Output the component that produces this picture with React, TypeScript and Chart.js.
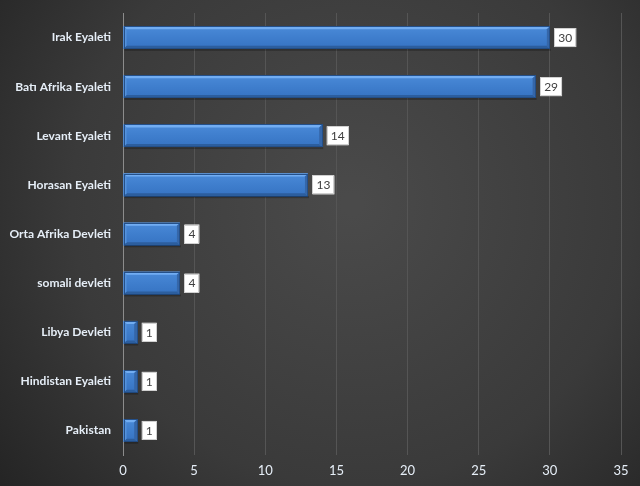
import React, { useEffect, useRef } from "react";
import { Chart, registerables } from "chart.js";

Chart.register(...registerables);

const categories = [
  "Irak Eyaleti",
  "Batı Afrika Eyaleti",
  "Levant Eyaleti",
  "Horasan Eyaleti",
  "Orta Afrika Devleti",
  "somali devleti",
  "Libya Devleti",
  "Hindistan Eyaleti",
  "Pakistan",
];
const values = [30, 29, 14, 13, 4, 4, 1, 1, 1];
const xTicks = [0, 5, 10, 15, 20, 25, 30, 35];

const FONT = "Lato, 'Open Sans', sans-serif";

const bgPlugin = {
  id: "bgPlugin",
  beforeDraw(chart: any) {
    const { ctx, width, height } = chart;
    ctx.save();
    const g = ctx.createRadialGradient(width * 0.55, height * 0.42, 10, width * 0.55, height * 0.42, width * 0.72);
    g.addColorStop(0, "#4a4a4a");
    g.addColorStop(0.6, "#3a3a3a");
    g.addColorStop(1, "#232323");
    ctx.fillStyle = g;
    ctx.fillRect(0, 0, width, height);
    ctx.restore();
  },
};

const bevelPlugin = {
  id: "bevelPlugin",
  afterDatasetsDraw(chart: any) {
    const { ctx } = chart;
    const meta = chart.getDatasetMeta(0);
    ctx.save();
    meta.data.forEach((bar: any) => {
      const l = bar.base;
      const r = bar.x;
      const t = bar.y - bar.height / 2;
      const b = bar.y + bar.height / 2;
      const bv = 3;
      const g = ctx.createLinearGradient(0, t, 0, b);
      g.addColorStop(0, "#4a8ad8");
      g.addColorStop(0.5, "#3f7ecd");
      g.addColorStop(1, "#3673c2");
      ctx.fillStyle = g;
      ctx.fillRect(l, t, r - l, b - t);
      ctx.fillStyle = "#72adf2";
      ctx.beginPath();
      ctx.moveTo(l, t);
      ctx.lineTo(r, t);
      ctx.lineTo(r - bv, t + bv);
      ctx.lineTo(l + bv, t + bv);
      ctx.closePath();
      ctx.fill();
      ctx.fillStyle = "#2c5e9e";
      ctx.beginPath();
      ctx.moveTo(l, b);
      ctx.lineTo(r, b);
      ctx.lineTo(r - bv, b - bv);
      ctx.lineTo(l + bv, b - bv);
      ctx.closePath();
      ctx.fill();
      ctx.fillStyle = "#3566a8";
      ctx.beginPath();
      ctx.moveTo(r, t);
      ctx.lineTo(r, b);
      ctx.lineTo(r - bv, b - bv);
      ctx.lineTo(r - bv, t + bv);
      ctx.closePath();
      ctx.fill();
      ctx.fillStyle = "#5592dc";
      ctx.beginPath();
      ctx.moveTo(l, t);
      ctx.lineTo(l, b);
      ctx.lineTo(l + bv, b - bv);
      ctx.lineTo(l + bv, t + bv);
      ctx.closePath();
      ctx.fill();
      ctx.strokeStyle = "#24508a";
      ctx.lineWidth = 1;
      ctx.strokeRect(Math.round(l) + 0.5, Math.round(t) + 0.5, Math.round(r - l) - 1, Math.round(b - t) - 1);
      ctx.fillStyle = "rgba(0,0,0,0.25)";
      ctx.fillRect(l + 1, b, r - l, 2);
    });
    ctx.restore();
  },
};

const labelPlugin = {
  id: "labelPlugin",
  afterDatasetsDraw(chart: any) {
    const { ctx } = chart;
    const meta = chart.getDatasetMeta(0);
    ctx.save();
    ctx.font = "12px " + FONT;
    ctx.textAlign = "center";
    ctx.textBaseline = "middle";
    meta.data.forEach((bar: any, i: number) => {
      const txt = String(values[i]);
      const w = Math.max(14, ctx.measureText(txt).width + 8);
      const h = 19;
      const x = bar.x + 4.5;
      const y = bar.y - h / 2;
      ctx.fillStyle = "#ffffff";
      ctx.fillRect(x, y, w, h);
      ctx.strokeStyle = "#d0d0d0";
      ctx.lineWidth = 1;
      ctx.strokeRect(Math.round(x) + 0.5, Math.round(y) + 0.5, Math.round(w) - 1, h - 1);
      ctx.fillStyle = "#404040";
      ctx.fillText(txt, x + w / 2, bar.y + 0.5);
    });
    ctx.restore();
  },
};

export default function App() {
  const ref = useRef<HTMLCanvasElement>(null);
  useEffect(() => {
    const canvas = ref.current!;
    const chart = new Chart(canvas, {
      type: "bar",
      data: {
        labels: categories,
        datasets: [
          {
            data: values,
            backgroundColor: "#3f7ecd",
            borderWidth: 0,
            barPercentage: 1,
            categoryPercentage: 0.46,
          },
        ],
      },
      options: {
        indexAxis: "y",
        animation: false,
        responsive: false,
        maintainAspectRatio: false,
        layout: { padding: { left: 0, right: 19, top: 13, bottom: 0 } },
        plugins: { legend: { display: false }, tooltip: { enabled: false } },
        scales: {
          x: {
            min: 0,
            max: 35,
            afterBuildTicks: (s: any) => {
              s.ticks = xTicks.map((v) => ({ value: v }));
            },
            grid: { color: "#555555", drawTicks: false, lineWidth: 1 },
            border: { display: false },
            ticks: {
              color: "#e6eef7",
              font: { family: FONT, size: 13 },
              padding: 8,
            },
            afterFit: (s: any) => {
              s.height = 31;
              s.paddingLeft = 0;
              s.paddingRight = 0;
            },
          },
          y: {
            grid: { display: false, drawTicks: false },
            border: { display: true, color: "#8c8c8c", width: 1 },
            ticks: {
              color: "#e6eef7",
              font: { family: FONT, size: 12, weight: "bold" },
              padding: 12,
            },
            afterFit: (s: any) => {
              s.width = 123;
              s.paddingTop = 0;
              s.paddingBottom = 0;
            },
          },
        },
      },
      plugins: [bgPlugin, bevelPlugin, labelPlugin],
    } as any);
    return () => chart.destroy();
  }, []);
  return (
    <div style={{ position: "fixed", left: 0, top: 0, width: 640, height: 486 }}>
      <canvas ref={ref} width={640} height={486} style={{ display: "block" }} />
    </div>
  );
}
